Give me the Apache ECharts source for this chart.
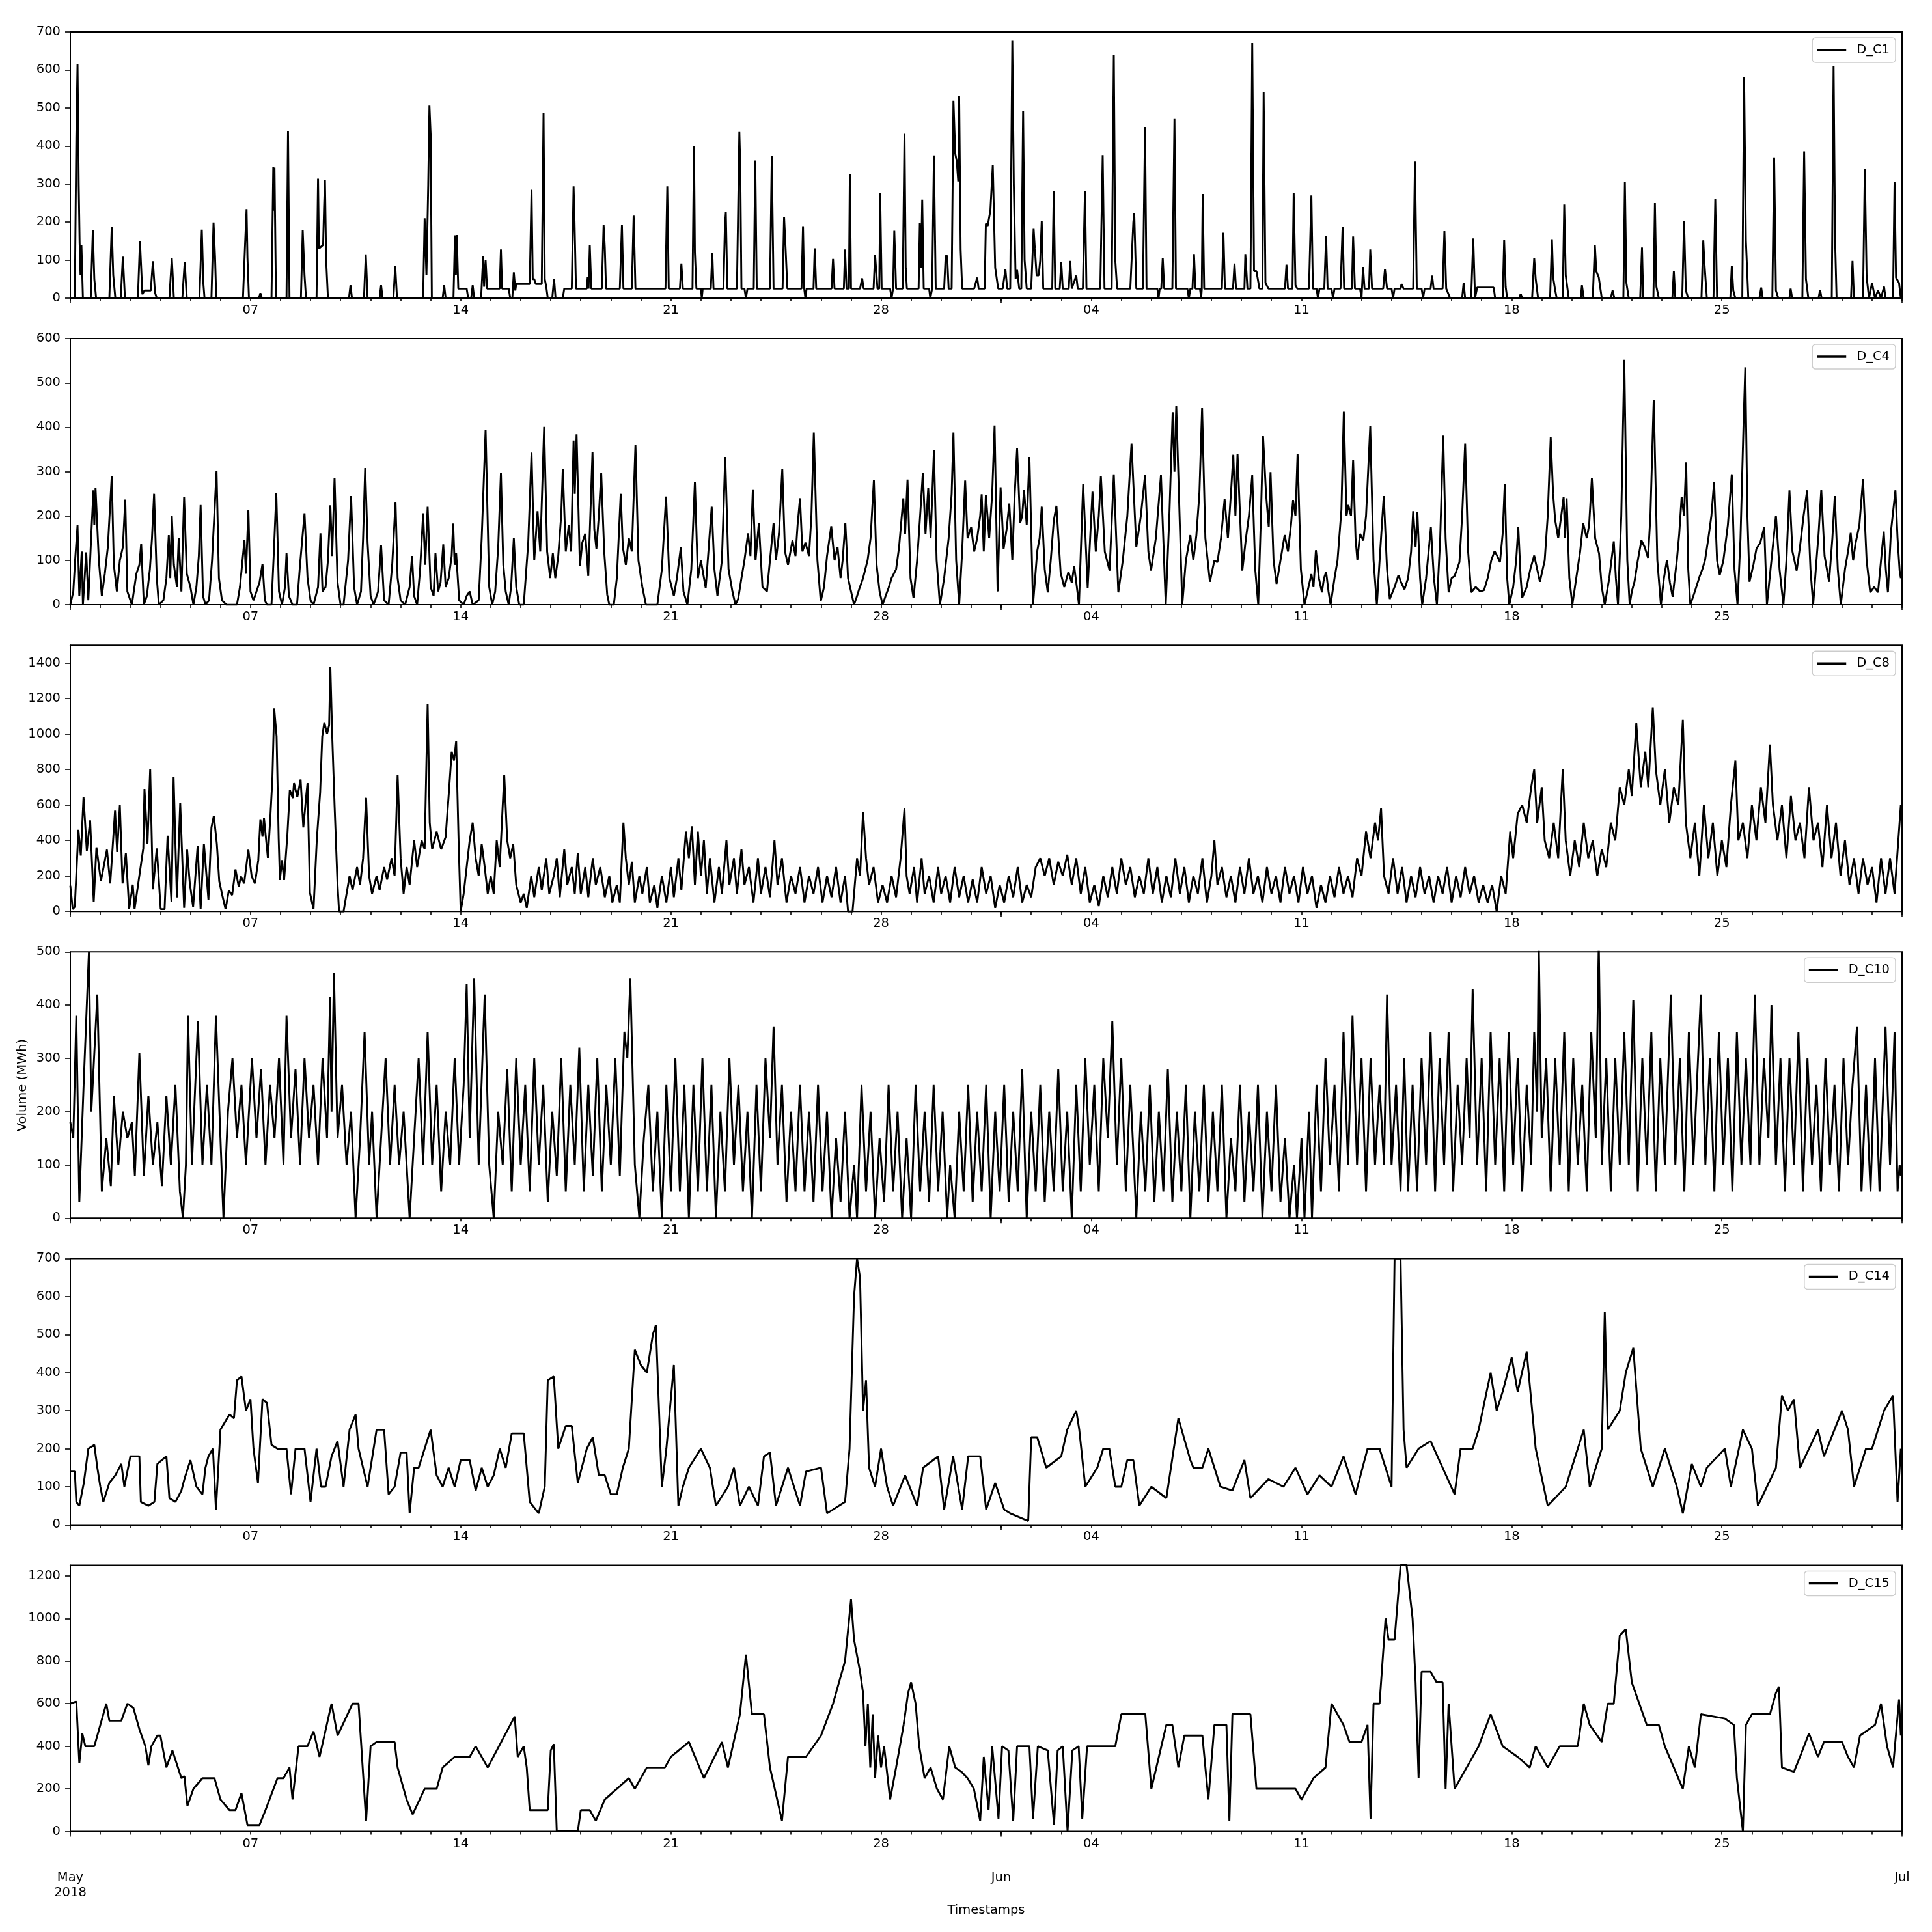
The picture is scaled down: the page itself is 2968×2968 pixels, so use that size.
<!DOCTYPE html>
<html><head><meta charset="utf-8">
<script src="https://cdn.jsdelivr.net/npm/echarts@6/dist/echarts.min.js"></script>
<style>html,body{margin:0;padding:0;background:#fff}#c{width:2968px;height:2968px}</style>
</head><body><div id="c"></div>
<script>
const seriesNames = ['D_C1','D_C4','D_C8','D_C10','D_C14','D_C15'];
const yMax = [700,600,1500,500,700,1250];
const yStep = [100,100,200,100,100,200];
const weekDays = [6,13,20,27,34,41,48,55];
const weekLabels = ['07','14','21','28','04','11','18','25'];
const monthDays = [0,31,61];
const monthLabels = ['May\n2018','Jun','Jul'];

// values: [day since 2018-05-01 00:00, MWh]
const c1 = [[0,0],[0.15,0],[0.2,420],[0.24,615],[0.28,300],[0.31,145],[0.34,60],[0.37,140],[0.42,0],[0.68,0],[0.75,178],[0.8,50],[0.86,0],[1.3,0],[1.38,188],[1.43,60],[1.5,0],[1.68,0],[1.75,109],[1.82,0],[2.25,0],[2.32,149],[2.4,10],[2.47,20],[2.68,20],[2.75,97],[2.82,15],[2.88,0],[3.3,0],[3.38,105],[3.45,0],[3.73,0],[3.81,95],[3.88,0],[4.3,0],[4.38,180],[4.43,40],[4.47,0],[4.7,0],[4.77,199],[4.82,110],[4.86,0],[5.75,0],[5.82,140],[5.87,234],[5.9,105],[5.95,0],[6.28,0],[6.33,13],[6.38,0],[6.7,0],[6.76,345],[6.78,230],[6.8,343],[6.85,0],[7.2,0],[7.25,440],[7.3,0],[7.68,0],[7.74,178],[7.8,60],[7.85,0],[8.2,0],[8.25,314],[8.28,130],[8.35,135],[8.42,140],[8.45,236],[8.48,310],[8.52,100],[8.58,0],[9.28,0],[9.33,34],[9.38,0],[9.78,0],[9.84,115],[9.9,0],[10.3,0],[10.35,34],[10.4,0],[10.76,0],[10.82,85],[10.88,0],[11.75,0],[11.8,210],[11.86,60],[11.92,300],[11.96,506],[12.0,430],[12.04,0],[12.4,0],[12.45,34],[12.5,0],[12.76,0],[12.81,165],[12.84,60],[12.87,166],[12.92,25],[13.2,25],[13.25,0],[13.35,0],[13.4,34],[13.45,0],[13.68,0],[13.75,111],[13.78,30],[13.83,99],[13.88,25],[14.3,25],[14.34,128],[14.38,25],[14.6,25],[14.65,0],[14.72,0],[14.77,68],[14.82,20],[14.85,37],[15.3,37],[15.36,285],[15.4,50],[15.45,50],[15.5,37],[15.7,37],[15.76,487],[15.8,50],[15.85,30],[15.9,0],[16.05,0],[16.11,51],[16.16,0],[16.4,0],[16.45,25],[16.7,25],[16.76,294],[16.79,208],[16.84,25],[17.2,25],[17.23,56],[17.26,25],[17.3,139],[17.35,25],[17.7,25],[17.76,192],[17.8,133],[17.84,25],[18.3,25],[18.37,193],[18.42,25],[18.7,25],[18.76,217],[18.82,25],[19.82,25],[19.88,294],[19.93,25],[20.3,25],[20.35,91],[20.4,25],[20.72,25],[20.77,400],[20.8,120],[20.85,25],[21.0,25],[21.03,0],[21.06,25],[21.33,25],[21.38,119],[21.42,25],[21.75,25],[21.8,190],[21.83,226],[21.88,25],[22.2,25],[22.28,437],[22.31,350],[22.35,25],[22.45,25],[22.5,0],[22.55,25],[22.76,25],[22.81,362],[22.86,25],[23.3,25],[23.36,373],[23.42,25],[23.72,25],[23.77,214],[23.82,130],[23.88,25],[24.35,25],[24.4,189],[24.44,25],[24.48,0],[24.52,25],[24.75,25],[24.79,131],[24.84,25],[25.35,25],[25.4,103],[25.45,25],[25.76,25],[25.8,128],[25.85,25],[25.93,25],[25.96,327],[26.0,25],[26.3,25],[26.37,52],[26.42,25],[26.75,25],[26.8,114],[26.88,25],[26.94,25],[26.97,277],[27.02,25],[27.3,25],[27.35,0],[27.4,25],[27.44,177],[27.5,25],[27.72,25],[27.78,432],[27.82,78],[27.86,25],[28.25,25],[28.29,197],[28.33,80],[28.37,259],[28.42,25],[28.6,25],[28.64,0],[28.7,25],[28.76,375],[28.82,25],[29.1,25],[29.15,111],[29.2,111],[29.25,25],[29.35,25],[29.41,519],[29.47,380],[29.52,360],[29.57,307],[29.6,531],[29.65,128],[29.7,25],[30.1,25],[30.2,54],[30.25,25],[30.45,25],[30.49,196],[30.55,190],[30.64,230],[30.72,350],[30.8,80],[30.9,25],[31.05,25],[31.14,76],[31.2,25],[31.3,25],[31.37,677],[31.42,300],[31.48,50],[31.53,74],[31.6,25],[31.67,25],[31.73,491],[31.78,100],[31.85,25],[32.0,25],[32.08,182],[32.12,131],[32.18,60],[32.25,60],[32.3,100],[32.35,203],[32.4,25],[32.7,25],[32.75,281],[32.8,25],[32.95,25],[33.0,94],[33.05,25],[33.25,25],[33.3,98],[33.35,25],[33.5,59],[33.55,25],[33.72,25],[33.79,282],[33.84,25],[34.3,25],[34.38,376],[34.44,25],[34.68,25],[34.75,640],[34.8,99],[34.86,25],[35.3,25],[35.4,199],[35.43,224],[35.5,25],[35.72,25],[35.79,450],[35.84,25],[36.2,25],[36.24,0],[36.28,25],[36.33,25],[36.38,105],[36.43,25],[36.7,25],[36.77,471],[36.82,25],[37.2,25],[37.25,0],[37.3,25],[37.37,25],[37.42,116],[37.47,25],[37.62,25],[37.66,0],[37.68,25],[37.71,274],[37.76,25],[38.35,25],[38.4,172],[38.45,25],[38.72,25],[38.77,91],[38.82,25],[39.1,25],[39.13,116],[39.2,25],[39.3,25],[39.36,671],[39.42,71],[39.5,71],[39.6,25],[39.7,25],[39.74,541],[39.8,40],[39.9,25],[40.45,25],[40.5,88],[40.55,25],[40.7,25],[40.74,277],[40.8,34],[40.86,25],[41.25,25],[41.33,270],[41.38,25],[41.5,25],[41.55,0],[41.6,25],[41.76,25],[41.82,163],[41.87,25],[42.0,25],[42.05,0],[42.1,25],[42.3,25],[42.37,188],[42.42,25],[42.68,25],[42.72,162],[42.78,25],[42.95,25],[43.0,0],[43.05,82],[43.1,25],[43.25,25],[43.29,128],[43.35,25],[43.72,25],[43.78,76],[43.85,25],[44.0,25],[44.05,0],[44.1,25],[44.3,25],[44.33,37],[44.4,25],[44.72,25],[44.78,359],[44.84,25],[45.0,25],[45.05,0],[45.1,25],[45.3,25],[45.35,59],[45.4,25],[45.7,25],[45.76,176],[45.82,25],[45.95,0],[46.35,0],[46.4,40],[46.45,0],[46.65,0],[46.72,157],[46.78,0],[46.85,28],[47.4,28],[47.45,0],[47.7,0],[47.75,153],[47.8,30],[47.85,0],[48.25,0],[48.3,11],[48.35,0],[48.68,0],[48.75,105],[48.8,50],[48.88,0],[49.28,0],[49.34,155],[49.38,55],[49.45,20],[49.5,0],[49.7,0],[49.75,246],[49.8,60],[49.9,0],[50.3,0],[50.34,34],[50.4,0],[50.7,0],[50.77,139],[50.82,70],[50.9,55],[51.0,0],[51.3,0],[51.36,20],[51.42,0],[51.72,0],[51.77,305],[51.82,40],[51.9,0],[52.28,0],[52.34,133],[52.38,0],[52.72,0],[52.77,250],[52.82,30],[52.9,0],[53.35,0],[53.4,71],[53.45,0],[53.68,0],[53.74,203],[53.8,20],[53.88,0],[54.32,0],[54.38,152],[54.42,90],[54.5,0],[54.72,0],[54.78,260],[54.84,0],[55.28,0],[55.33,85],[55.38,20],[55.45,0],[55.68,0],[55.74,580],[55.8,150],[55.88,0],[56.25,0],[56.31,28],[56.36,0],[56.68,0],[56.74,370],[56.8,20],[56.88,0],[57.25,0],[57.29,25],[57.34,0],[57.68,0],[57.74,386],[57.8,50],[57.88,0],[58.22,0],[58.27,22],[58.32,0],[58.66,0],[58.72,610],[58.77,152],[58.82,0],[59.3,0],[59.35,98],[59.4,0],[59.7,0],[59.76,339],[59.82,56],[59.9,0],[60.0,40],[60.1,0],[60.2,20],[60.3,0],[60.4,30],[60.45,0],[60.7,0],[60.75,305],[60.8,54],[60.9,40],[60.96,0]];

const c4 = [[0,0],[0.1,30],[0.16,100],[0.24,179],[0.3,20],[0.38,120],[0.42,0],[0.53,118],[0.6,10],[0.7,160],[0.77,258],[0.8,180],[0.84,263],[0.95,100],[1.05,20],[1.15,70],[1.25,130],[1.38,290],[1.45,90],[1.55,30],[1.65,100],[1.75,130],[1.83,237],[1.9,30],[2.05,0],[2.2,70],[2.3,90],[2.36,138],[2.45,0],[2.55,20],[2.65,80],[2.72,150],[2.79,250],[2.88,60],[2.95,0],[3.1,10],[3.2,60],[3.28,157],[3.33,60],[3.38,201],[3.45,90],[3.55,40],[3.61,150],[3.7,30],[3.79,243],[3.88,70],[4.0,40],[4.1,0],[4.2,40],[4.28,110],[4.34,225],[4.42,20],[4.5,0],[4.62,10],[4.72,100],[4.87,302],[4.95,60],[5.05,10],[5.2,0],[5.4,0],[5.55,0],[5.65,40],[5.72,90],[5.8,146],[5.85,70],[5.93,214],[6.0,30],[6.1,10],[6.2,30],[6.3,50],[6.4,92],[6.48,10],[6.55,0],[6.7,0],[6.78,120],[6.86,251],[6.95,30],[7.05,0],[7.15,40],[7.2,116],[7.28,20],[7.4,0],[7.55,0],[7.65,90],[7.8,206],[7.9,60],[8.0,10],[8.1,0],[8.25,40],[8.33,161],[8.4,30],[8.5,40],[8.58,100],[8.66,224],[8.72,110],[8.8,286],[8.9,50],[9.0,0],[9.1,0],[9.25,100],[9.35,245],[9.45,40],[9.55,0],[9.68,30],[9.75,150],[9.82,308],[9.9,140],[10.0,20],[10.1,0],[10.25,30],[10.35,134],[10.45,10],[10.6,0],[10.72,90],[10.83,232],[10.9,60],[11.0,10],[11.15,0],[11.3,40],[11.38,110],[11.45,20],[11.55,0],[11.65,80],[11.75,206],[11.82,90],[11.9,221],[12.0,40],[12.1,20],[12.16,116],[12.25,30],[12.33,50],[12.42,136],[12.5,40],[12.6,60],[12.7,110],[12.75,183],[12.8,90],[12.85,116],[12.95,10],[13.1,0],[13.2,20],[13.3,30],[13.4,0],[13.6,10],[13.7,150],[13.83,394],[13.95,40],[14.05,0],[14.15,30],[14.25,130],[14.34,297],[14.42,90],[14.5,30],[14.6,0],[14.68,40],[14.77,150],[14.85,40],[14.95,0],[15.1,0],[15.25,140],[15.36,343],[15.45,100],[15.56,211],[15.65,120],[15.78,401],[15.88,120],[15.98,60],[16.07,116],[16.15,60],[16.25,110],[16.35,204],[16.4,306],[16.5,120],[16.6,180],[16.68,120],[16.76,370],[16.8,250],[16.86,384],[16.97,87],[17.05,140],[17.15,160],[17.25,65],[17.39,344],[17.45,170],[17.52,126],[17.6,200],[17.68,297],[17.78,120],[17.88,23],[17.95,0],[18.1,0],[18.2,60],[18.33,250],[18.4,130],[18.5,90],[18.6,150],[18.7,120],[18.82,360],[18.92,100],[19.05,40],[19.17,0],[19.4,0],[19.55,0],[19.7,80],[19.84,244],[19.95,60],[20.1,20],[20.2,60],[20.33,129],[20.42,30],[20.55,0],[20.68,80],[20.8,277],[20.9,60],[21.0,100],[21.16,38],[21.25,120],[21.36,221],[21.45,80],[21.55,20],[21.7,100],[21.81,333],[21.92,80],[22.05,30],[22.15,0],[22.24,13],[22.35,60],[22.45,100],[22.57,161],[22.65,110],[22.73,260],[22.82,100],[22.93,184],[23.05,40],[23.2,30],[23.3,100],[23.42,184],[23.5,100],[23.6,160],[23.71,306],[23.8,120],[23.9,90],[24.05,145],[24.15,110],[24.22,180],[24.3,240],[24.38,120],[24.48,140],[24.6,110],[24.68,200],[24.76,388],[24.88,100],[24.99,8],[25.1,40],[25.2,110],[25.34,177],[25.45,100],[25.55,130],[25.65,60],[25.72,100],[25.81,185],[25.9,60],[26.0,30],[26.1,0],[26.2,20],[26.27,35],[26.4,60],[26.55,100],[26.65,150],[26.76,281],[26.85,90],[26.95,30],[27.05,0],[27.15,20],[27.25,38],[27.35,60],[27.5,80],[27.6,130],[27.74,240],[27.8,160],[27.88,282],[27.98,60],[28.08,15],[28.2,100],[28.3,200],[28.39,297],[28.48,160],[28.57,263],[28.65,150],[28.76,348],[28.85,100],[28.96,0],[29.1,60],[29.25,150],[29.35,250],[29.41,388],[29.5,100],[29.6,0],[29.7,120],[29.8,280],[29.88,150],[30.0,175],[30.1,120],[30.2,150],[30.3,200],[30.35,249],[30.42,120],[30.49,248],[30.6,150],[30.7,250],[30.78,404],[30.88,30],[30.98,265],[31.08,126],[31.18,170],[31.27,228],[31.37,100],[31.45,250],[31.53,352],[31.63,184],[31.7,200],[31.76,259],[31.85,180],[31.94,333],[32.06,0],[32.2,121],[32.28,150],[32.35,221],[32.45,80],[32.55,28],[32.65,100],[32.75,189],[32.84,223],[32.98,72],[33.1,40],[33.24,74],[33.35,50],[33.43,87],[33.52,40],[33.59,0],[33.73,272],[33.88,38],[34.04,255],[34.15,120],[34.25,200],[34.32,290],[34.45,120],[34.61,77],[34.75,294],[34.9,28],[35.05,100],[35.2,200],[35.34,363],[35.5,130],[35.65,200],[35.79,292],[35.9,120],[35.99,77],[36.15,150],[36.32,292],[36.48,0],[36.6,200],[36.71,434],[36.77,300],[36.83,448],[37.03,0],[37.15,100],[37.3,157],[37.4,100],[37.5,157],[37.6,250],[37.69,443],[37.8,150],[37.95,52],[38.1,100],[38.2,96],[38.32,150],[38.44,238],[38.55,150],[38.65,250],[38.73,338],[38.8,200],[38.87,340],[39.03,77],[39.15,150],[39.25,200],[39.36,292],[39.46,80],[39.56,0],[39.65,200],[39.72,380],[39.82,250],[39.91,175],[39.97,299],[40.07,100],[40.17,47],[40.3,100],[40.44,157],[40.55,120],[40.65,180],[40.72,236],[40.8,200],[40.87,340],[40.98,80],[41.1,0],[41.2,30],[41.33,69],[41.4,40],[41.48,123],[41.58,60],[41.68,28],[41.75,60],[41.82,74],[41.9,30],[41.97,0],[42.1,60],[42.2,100],[42.33,214],[42.41,435],[42.5,200],[42.56,225],[42.65,200],[42.72,326],[42.8,150],[42.86,101],[42.95,160],[43.06,145],[43.15,200],[43.29,402],[43.4,100],[43.51,0],[43.62,120],[43.74,245],[43.85,80],[43.94,13],[44.1,40],[44.23,67],[44.32,50],[44.43,35],[44.55,60],[44.65,120],[44.72,211],[44.8,130],[44.86,209],[44.95,60],[45.02,0],[45.15,60],[45.31,175],[45.41,60],[45.51,0],[45.62,150],[45.72,381],[45.8,150],[45.9,28],[46.0,60],[46.1,65],[46.18,80],[46.26,96],[46.35,200],[46.45,363],[46.55,120],[46.65,28],[46.8,40],[46.95,30],[47.08,33],[47.2,60],[47.32,100],[47.43,121],[47.52,110],[47.61,96],[47.7,160],[47.77,272],[47.85,60],[47.92,0],[48.05,40],[48.15,100],[48.22,175],[48.3,60],[48.35,16],[48.5,40],[48.62,80],[48.75,111],[48.85,80],[48.94,52],[49.1,100],[49.2,200],[49.3,377],[49.38,250],[49.45,190],[49.55,150],[49.65,200],[49.73,243],[49.78,150],[49.83,240],[49.92,60],[50.02,0],[50.15,60],[50.28,120],[50.38,184],[50.5,150],[50.58,180],[50.67,285],[50.78,150],[50.91,116],[51.0,40],[51.1,0],[51.25,60],[51.4,143],[51.47,60],[51.54,0],[51.65,200],[51.75,552],[51.85,100],[51.93,0],[52.0,30],[52.09,52],[52.2,100],[52.32,145],[52.43,130],[52.54,106],[52.62,200],[52.73,462],[52.85,100],[52.97,0],[53.07,60],[53.17,101],[53.27,50],[53.36,18],[53.5,100],[53.58,160],[53.66,243],[53.74,200],[53.81,321],[53.88,80],[53.95,0],[54.1,30],[54.25,62],[54.35,80],[54.44,101],[54.55,150],[54.65,200],[54.74,277],[54.84,100],[54.93,67],[55.05,100],[55.2,180],[55.33,294],[55.42,80],[55.52,0],[55.62,150],[55.72,404],[55.78,535],[55.85,200],[55.92,52],[56.05,90],[56.15,126],[56.28,140],[56.41,175],[56.5,0],[56.65,100],[56.8,201],[56.92,80],[57.05,0],[57.15,100],[57.25,258],[57.35,120],[57.49,77],[57.6,130],[57.72,200],[57.84,258],[57.95,80],[58.04,0],[58.15,100],[58.22,160],[58.31,259],[58.42,110],[58.57,52],[58.68,150],[58.76,245],[58.86,80],[58.96,0],[59.1,80],[59.2,120],[59.29,162],[59.37,100],[59.45,138],[59.58,180],[59.7,283],[59.82,100],[59.94,28],[60.07,40],[60.2,28],[60.3,100],[60.39,165],[60.46,80],[60.53,28],[60.63,165],[60.78,258],[60.85,150],[60.92,77],[60.96,60]];

const c8 = [[0,145],[0.08,13],[0.15,26],[0.27,460],[0.35,315],[0.44,644],[0.55,342],[0.66,513],[0.78,53],[0.87,361],[1.02,171],[1.22,348],[1.33,158],[1.49,568],[1.56,335],[1.65,598],[1.74,158],[1.85,329],[1.96,13],[2.08,151],[2.14,13],[2.43,355],[2.47,690],[2.57,381],[2.66,802],[2.75,125],[2.88,355],[3.01,13],[3.14,13],[3.24,427],[3.37,53],[3.44,756],[3.55,79],[3.66,611],[3.79,20],[3.89,348],[3.98,158],[4.09,26],[4.24,368],[4.34,13],[4.45,381],[4.6,66],[4.7,473],[4.78,539],[4.88,381],[4.96,171],[5.06,92],[5.17,13],[5.28,118],[5.39,92],[5.5,237],[5.61,138],[5.68,197],[5.79,158],[5.93,348],[6.04,197],[6.15,158],[6.26,289],[6.33,519],[6.4,421],[6.45,526],[6.58,302],[6.66,526],[6.73,749],[6.79,1144],[6.87,986],[6.94,408],[6.98,177],[7.05,289],[7.12,177],[7.23,434],[7.31,684],[7.41,638],[7.45,723],[7.56,644],[7.67,743],[7.76,473],[7.86,657],[7.9,723],[7.98,105],[8.1,13],[8.21,408],[8.32,670],[8.39,986],[8.46,1065],[8.55,1000],[8.62,1050],[8.66,1380],[8.72,1000],[8.8,600],[8.9,150],[8.95,0],[9.1,0],[9.2,100],[9.3,200],[9.4,120],[9.55,250],[9.65,150],[9.75,300],[9.85,640],[9.95,200],[10.05,100],[10.2,200],[10.3,120],[10.45,250],[10.55,180],[10.7,300],[10.8,200],[10.9,770],[11.0,300],[11.1,100],[11.2,250],[11.3,150],[11.45,400],[11.55,250],[11.7,400],[11.8,350],[11.9,1170],[11.97,500],[12.05,350],[12.2,450],[12.35,350],[12.5,420],[12.62,700],[12.7,900],[12.78,850],[12.85,960],[12.93,400],[13.0,0],[13.1,100],[13.2,250],[13.3,400],[13.4,500],[13.5,300],[13.6,200],[13.7,380],[13.8,250],[13.9,100],[14.0,200],[14.1,100],[14.2,400],[14.3,250],[14.45,770],[14.55,400],[14.65,300],[14.75,380],[14.85,150],[15.0,50],[15.1,100],[15.2,20],[15.35,200],[15.45,80],[15.6,250],[15.7,120],[15.85,300],[15.95,100],[16.1,200],[16.2,300],[16.3,80],[16.45,350],[16.55,150],[16.7,250],[16.8,100],[16.9,330],[17.0,100],[17.15,250],[17.25,80],[17.4,300],[17.5,150],[17.65,250],[17.8,80],[17.95,200],[18.05,50],[18.2,150],[18.3,50],[18.42,500],[18.5,300],[18.6,150],[18.7,280],[18.8,50],[18.95,200],[19.05,100],[19.2,250],[19.3,50],[19.45,150],[19.55,20],[19.7,200],[19.85,50],[20.0,250],[20.1,80],[20.25,300],[20.35,120],[20.5,450],[20.6,300],[20.7,480],[20.8,150],[20.9,450],[21.0,200],[21.1,400],[21.2,100],[21.3,300],[21.45,50],[21.6,250],[21.7,100],[21.85,400],[21.95,150],[22.1,300],[22.2,100],[22.35,350],[22.45,150],[22.6,250],[22.75,50],[22.9,300],[23.0,100],[23.15,250],[23.3,80],[23.45,400],[23.55,150],[23.7,300],[23.85,50],[24.0,200],[24.15,100],[24.3,250],[24.45,50],[24.6,200],[24.75,100],[24.9,250],[25.05,50],[25.2,200],[25.35,80],[25.5,250],[25.65,50],[25.8,200],[25.9,0],[26.05,0],[26.2,300],[26.3,200],[26.4,560],[26.5,300],[26.6,150],[26.75,250],[26.9,50],[27.05,150],[27.2,50],[27.35,200],[27.5,80],[27.65,300],[27.78,580],[27.85,200],[27.95,100],[28.1,250],[28.2,50],[28.35,300],[28.45,100],[28.6,200],[28.75,50],[28.9,250],[29.0,100],[29.15,200],[29.3,50],[29.45,250],[29.6,80],[29.75,200],[29.9,50],[30.05,180],[30.2,50],[30.35,250],[30.5,100],[30.65,200],[30.8,20],[30.95,150],[31.1,50],[31.25,200],[31.4,80],[31.55,250],[31.7,50],[31.85,150],[32.0,80],[32.15,250],[32.3,300],[32.45,200],[32.6,300],[32.75,150],[32.9,280],[33.05,200],[33.2,320],[33.35,150],[33.5,300],[33.65,100],[33.8,250],[33.95,50],[34.1,150],[34.25,30],[34.4,200],[34.55,80],[34.7,250],[34.85,100],[35.0,300],[35.15,150],[35.3,250],[35.45,80],[35.6,200],[35.75,100],[35.9,300],[36.05,100],[36.2,250],[36.35,50],[36.5,200],[36.65,80],[36.8,300],[36.95,100],[37.1,250],[37.25,50],[37.4,200],[37.55,100],[37.7,300],[37.85,50],[38.0,200],[38.1,400],[38.2,150],[38.35,250],[38.5,80],[38.65,200],[38.8,50],[38.95,250],[39.1,100],[39.25,300],[39.4,100],[39.55,200],[39.7,50],[39.85,250],[40.0,100],[40.15,200],[40.3,50],[40.45,250],[40.6,100],[40.75,200],[40.9,50],[41.05,250],[41.2,100],[41.35,200],[41.5,20],[41.65,150],[41.8,50],[41.95,200],[42.1,80],[42.25,250],[42.4,100],[42.55,200],[42.7,80],[42.85,300],[43.0,200],[43.15,450],[43.3,300],[43.45,500],[43.55,400],[43.65,580],[43.75,200],[43.9,100],[44.05,300],[44.2,100],[44.35,250],[44.5,50],[44.65,200],[44.8,80],[44.95,250],[45.1,100],[45.25,200],[45.4,50],[45.55,200],[45.7,100],[45.85,250],[46.0,50],[46.15,200],[46.3,80],[46.45,250],[46.6,100],[46.75,200],[46.9,50],[47.05,150],[47.2,50],[47.35,150],[47.5,0],[47.65,200],[47.8,100],[47.95,450],[48.05,300],[48.2,550],[48.35,600],[48.5,500],[48.65,700],[48.75,800],[48.85,500],[49.0,700],[49.1,400],[49.25,300],[49.4,500],[49.55,300],[49.7,800],[49.8,400],[49.95,200],[50.1,400],[50.25,250],[50.4,500],[50.55,300],[50.7,400],[50.85,200],[51.0,350],[51.15,250],[51.3,500],[51.45,400],[51.6,700],[51.75,600],[51.9,800],[52.0,650],[52.15,1060],[52.3,700],[52.45,900],[52.55,700],[52.7,1150],[52.8,800],[52.95,600],[53.1,800],[53.25,500],[53.4,700],[53.55,600],[53.7,1080],[53.8,500],[53.95,300],[54.1,500],[54.25,200],[54.4,600],[54.55,300],[54.7,500],[54.85,200],[55.0,400],[55.15,250],[55.3,600],[55.45,850],[55.55,400],[55.7,500],[55.85,300],[56.0,600],[56.15,400],[56.3,700],[56.45,500],[56.6,940],[56.7,600],[56.85,400],[57.0,600],[57.15,300],[57.3,650],[57.45,400],[57.6,500],[57.75,300],[57.9,700],[58.05,400],[58.2,500],[58.35,250],[58.5,600],[58.65,300],[58.8,500],[58.95,200],[59.1,400],[59.25,150],[59.4,300],[59.55,100],[59.7,300],[59.85,150],[60.0,250],[60.15,50],[60.3,300],[60.45,100],[60.6,300],[60.75,100],[60.96,600]];

const c10 = [[0,180],[0.1,150],[0.2,380],[0.3,30],[0.45,260],[0.62,500],[0.7,200],[0.9,420],[1.05,50],[1.2,150],[1.35,60],[1.45,230],[1.6,100],[1.75,200],[1.9,150],[2.05,180],[2.15,80],[2.3,310],[2.45,80],[2.6,230],[2.75,100],[2.9,180],[3.05,60],[3.2,230],[3.35,100],[3.5,250],[3.65,50],[3.75,0],[3.85,100],[3.92,380],[4.05,100],[4.25,370],[4.4,100],[4.55,250],[4.7,100],[4.85,380],[5.0,150],[5.1,0],[5.25,200],[5.4,300],[5.55,150],[5.7,250],[5.85,100],[6.05,300],[6.2,150],[6.35,280],[6.5,100],[6.65,250],[6.8,150],[6.95,300],[7.1,100],[7.2,380],[7.35,150],[7.5,280],[7.65,100],[7.8,300],[7.95,150],[8.1,250],[8.25,100],[8.4,300],[8.55,150],[8.65,415],[8.7,200],[8.78,460],[8.9,150],[9.05,250],[9.2,100],[9.35,200],[9.5,0],[9.65,150],[9.8,350],[9.95,100],[10.05,200],[10.2,0],[10.35,150],[10.5,300],[10.65,100],[10.8,250],[10.95,100],[11.1,200],[11.3,0],[11.45,150],[11.6,300],[11.75,100],[11.9,350],[12.05,100],[12.2,250],[12.35,50],[12.5,200],[12.65,100],[12.8,300],[12.95,100],[13.1,250],[13.2,440],[13.3,150],[13.45,450],[13.6,100],[13.8,420],[13.95,100],[14.1,0],[14.25,200],[14.4,100],[14.55,280],[14.7,50],[14.85,300],[15.0,100],[15.15,250],[15.3,50],[15.45,300],[15.6,100],[15.75,250],[15.9,30],[16.05,200],[16.2,80],[16.35,300],[16.5,50],[16.65,250],[16.8,100],[16.95,320],[17.1,50],[17.25,250],[17.4,80],[17.55,300],[17.7,50],[17.85,250],[18.0,100],[18.15,300],[18.3,80],[18.45,350],[18.55,300],[18.65,450],[18.8,100],[18.95,0],[19.1,150],[19.25,250],[19.4,50],[19.55,200],[19.7,0],[19.85,250],[20.0,50],[20.15,300],[20.3,50],[20.45,250],[20.6,0],[20.75,250],[20.9,50],[21.05,300],[21.2,50],[21.35,250],[21.5,0],[21.65,200],[21.8,50],[21.95,300],[22.1,100],[22.25,250],[22.4,50],[22.55,200],[22.7,0],[22.85,250],[23.0,50],[23.15,300],[23.3,150],[23.42,360],[23.55,100],[23.7,250],[23.85,30],[24.0,200],[24.15,50],[24.3,250],[24.45,50],[24.6,200],[24.75,30],[24.9,250],[25.05,50],[25.2,200],[25.35,0],[25.5,150],[25.65,30],[25.8,200],[25.95,0],[26.1,100],[26.2,0],[26.35,250],[26.5,50],[26.65,200],[26.8,0],[26.95,150],[27.1,30],[27.25,250],[27.4,50],[27.55,200],[27.7,0],[27.85,150],[28.0,0],[28.15,250],[28.3,50],[28.45,200],[28.6,30],[28.75,250],[28.9,50],[29.05,200],[29.2,0],[29.3,100],[29.45,0],[29.6,200],[29.75,50],[29.9,250],[30.05,30],[30.2,200],[30.35,50],[30.5,250],[30.65,0],[30.8,200],[30.95,50],[31.1,250],[31.25,30],[31.4,200],[31.55,50],[31.7,280],[31.85,0],[32.0,200],[32.15,50],[32.3,250],[32.45,30],[32.6,200],[32.75,50],[32.9,280],[33.05,50],[33.2,200],[33.35,0],[33.5,250],[33.65,50],[33.8,300],[33.95,100],[34.1,250],[34.25,50],[34.4,300],[34.55,150],[34.7,370],[34.85,100],[35.0,300],[35.15,50],[35.3,250],[35.5,0],[35.65,200],[35.8,50],[35.95,250],[36.1,30],[36.25,200],[36.4,50],[36.55,280],[36.7,30],[36.85,200],[37.0,50],[37.15,250],[37.3,0],[37.45,200],[37.6,50],[37.75,250],[37.9,30],[38.05,200],[38.2,50],[38.35,250],[38.5,0],[38.65,150],[38.8,50],[38.95,250],[39.1,30],[39.25,200],[39.4,50],[39.55,250],[39.7,0],[39.85,200],[40.0,50],[40.15,250],[40.3,30],[40.45,150],[40.6,0],[40.75,100],[40.85,0],[41.0,150],[41.1,0],[41.25,200],[41.35,0],[41.5,250],[41.65,50],[41.8,300],[41.95,100],[42.1,250],[42.25,50],[42.4,350],[42.55,100],[42.7,380],[42.85,100],[43.0,300],[43.15,50],[43.3,300],[43.45,100],[43.6,250],[43.75,100],[43.85,420],[44.0,100],[44.15,250],[44.3,50],[44.42,300],[44.55,50],[44.7,250],[44.85,50],[45.0,300],[45.15,100],[45.3,350],[45.45,50],[45.6,300],[45.75,100],[45.9,350],[46.05,50],[46.2,250],[46.35,100],[46.5,300],[46.6,150],[46.7,430],[46.85,100],[47.0,300],[47.15,50],[47.3,350],[47.45,100],[47.6,300],[47.75,50],[47.9,350],[48.05,100],[48.2,300],[48.35,50],[48.5,250],[48.65,100],[48.75,350],[48.85,200],[48.9,520],[49.0,150],[49.15,300],[49.3,50],[49.45,300],[49.6,100],[49.75,350],[49.9,50],[50.05,300],[50.2,100],[50.35,250],[50.5,50],[50.65,350],[50.8,150],[50.9,520],[51.0,100],[51.15,300],[51.3,50],[51.45,300],[51.6,100],[51.75,350],[51.9,100],[52.05,410],[52.2,50],[52.35,300],[52.5,100],[52.65,350],[52.8,50],[52.95,300],[53.1,100],[53.3,420],[53.45,100],[53.6,300],[53.75,50],[53.9,350],[54.05,100],[54.3,420],[54.45,100],[54.6,300],[54.75,50],[54.9,350],[55.05,100],[55.2,300],[55.35,50],[55.5,350],[55.65,100],[55.8,300],[55.95,100],[56.1,420],[56.25,100],[56.4,300],[56.55,150],[56.65,400],[56.8,100],[56.95,300],[57.1,50],[57.25,300],[57.4,100],[57.55,350],[57.7,50],[57.85,300],[58.0,100],[58.15,250],[58.3,50],[58.45,300],[58.6,100],[58.75,250],[58.9,50],[59.05,300],[59.2,100],[59.35,250],[59.5,360],[59.65,50],[59.8,250],[59.95,50],[60.1,300],[60.25,50],[60.45,360],[60.6,100],[60.75,350],[60.85,50],[60.92,100],[60.96,80]];

const c14 = [[0,140],[0.15,140],[0.2,60],[0.3,50],[0.45,110],[0.6,200],[0.8,210],[0.9,150],[1.0,100],[1.1,60],[1.3,110],[1.5,130],[1.7,160],[1.8,100],[2.0,180],[2.3,180],[2.35,60],[2.6,50],[2.8,60],[2.9,160],[3.2,180],[3.3,70],[3.5,60],[3.7,90],[3.8,120],[4.0,170],[4.2,100],[4.4,80],[4.5,150],[4.6,180],[4.75,200],[4.85,40],[5.0,250],[5.3,290],[5.45,280],[5.55,380],[5.7,390],[5.85,300],[6.0,330],[6.1,200],[6.25,110],[6.4,330],[6.55,320],[6.7,210],[6.9,200],[7.2,200],[7.35,80],[7.5,200],[7.8,200],[8.0,60],[8.2,200],[8.35,100],[8.5,100],[8.7,180],[8.9,220],[9.1,100],[9.3,250],[9.5,290],[9.6,200],[9.9,100],[10.2,250],[10.45,250],[10.6,80],[10.8,100],[11.0,190],[11.2,190],[11.3,30],[11.45,150],[11.6,150],[11.8,200],[12.0,250],[12.2,130],[12.4,100],[12.6,150],[12.8,100],[13.0,170],[13.3,170],[13.5,90],[13.7,150],[13.9,100],[14.1,130],[14.3,200],[14.5,150],[14.7,240],[15.1,240],[15.3,60],[15.6,30],[15.8,100],[15.9,380],[16.1,390],[16.25,200],[16.5,260],[16.7,260],[16.9,110],[17.2,200],[17.4,230],[17.6,130],[17.8,130],[18.0,80],[18.2,80],[18.4,150],[18.6,200],[18.8,460],[19.0,420],[19.2,400],[19.4,500],[19.5,525],[19.7,100],[19.85,200],[20.1,420],[20.25,50],[20.4,100],[20.6,150],[21.0,200],[21.3,150],[21.5,50],[21.9,100],[22.1,150],[22.3,50],[22.6,100],[22.9,50],[23.1,180],[23.3,190],[23.5,50],[23.9,150],[24.3,50],[24.5,140],[25.0,150],[25.2,30],[25.8,60],[25.95,200],[26.1,600],[26.2,700],[26.3,650],[26.4,300],[26.5,380],[26.6,150],[26.8,100],[27.0,200],[27.2,100],[27.4,50],[27.8,130],[28.2,50],[28.4,150],[28.9,180],[29.1,40],[29.4,180],[29.7,40],[29.9,180],[30.3,180],[30.5,40],[30.8,110],[31.1,40],[31.3,30],[31.9,10],[32.0,230],[32.2,230],[32.5,150],[33.0,180],[33.2,250],[33.5,300],[33.6,250],[33.8,100],[34.2,150],[34.4,200],[34.6,200],[34.8,100],[35.0,100],[35.2,170],[35.4,170],[35.6,50],[36.0,100],[36.5,70],[36.9,280],[37.3,170],[37.4,150],[37.7,150],[37.9,200],[38.3,100],[38.7,90],[39.1,170],[39.3,70],[39.9,120],[40.4,100],[40.8,150],[41.2,80],[41.6,130],[42.0,100],[42.4,180],[42.8,80],[43.2,200],[43.6,200],[44.0,100],[44.05,400],[44.1,700],[44.3,700],[44.4,250],[44.5,150],[44.9,200],[45.3,220],[45.7,150],[46.1,80],[46.3,200],[46.7,200],[46.9,250],[47.3,400],[47.5,300],[47.7,350],[48.0,440],[48.2,350],[48.5,455],[48.8,200],[49.2,50],[49.8,100],[50.0,150],[50.4,250],[50.6,100],[51.0,200],[51.1,560],[51.2,250],[51.6,300],[51.8,400],[52.05,465],[52.3,200],[52.7,100],[53.1,200],[53.5,100],[53.7,30],[54.0,160],[54.3,100],[54.5,150],[55.1,200],[55.3,100],[55.7,250],[56.0,200],[56.2,50],[56.8,150],[57.0,340],[57.2,300],[57.4,330],[57.6,150],[58.2,250],[58.4,180],[59.0,300],[59.2,250],[59.4,100],[59.8,200],[60.0,200],[60.4,300],[60.7,340],[60.85,60],[60.96,200]];

const c15 = [[0,600],[0.2,610],[0.3,320],[0.4,460],[0.5,400],[0.8,400],[1.0,500],[1.2,600],[1.3,520],[1.7,520],[1.9,600],[2.1,580],[2.3,480],[2.5,400],[2.6,310],[2.7,400],[2.9,450],[3.0,450],[3.2,300],[3.4,380],[3.7,250],[3.8,260],[3.9,120],[4.1,200],[4.4,250],[4.8,250],[5.0,150],[5.3,100],[5.5,100],[5.7,180],[5.9,30],[6.3,30],[6.5,100],[6.9,250],[7.1,250],[7.3,300],[7.4,150],[7.6,400],[7.9,400],[8.1,470],[8.3,350],[8.7,600],[8.9,450],[9.4,600],[9.6,600],[9.85,50],[10.0,400],[10.2,420],[10.8,420],[10.9,300],[11.2,150],[11.4,80],[11.8,200],[12.2,200],[12.4,300],[12.8,350],[13.3,350],[13.5,400],[13.9,300],[14.8,540],[14.9,350],[15.1,400],[15.2,300],[15.3,100],[15.9,100],[16.0,380],[16.1,410],[16.2,0],[16.9,0],[17.0,100],[17.3,100],[17.5,50],[17.8,150],[18.2,200],[18.6,250],[18.8,200],[19.2,300],[19.8,300],[20.0,350],[20.6,420],[21.1,250],[21.7,420],[21.9,300],[22.3,550],[22.5,830],[22.7,550],[23.1,550],[23.3,300],[23.7,50],[23.9,350],[24.5,350],[25.0,450],[25.4,600],[25.6,700],[25.8,800],[26.0,1090],[26.1,900],[26.3,750],[26.4,650],[26.48,400],[26.56,600],[26.64,300],[26.72,550],[26.8,250],[26.9,450],[27.0,300],[27.1,400],[27.3,150],[27.5,300],[27.75,500],[27.9,650],[28.0,700],[28.15,600],[28.27,400],[28.45,250],[28.65,300],[28.86,200],[29.06,150],[29.27,400],[29.47,300],[29.68,280],[29.88,250],[30.09,200],[30.3,50],[30.42,350],[30.58,100],[30.7,400],[30.91,60],[31.03,400],[31.24,380],[31.4,50],[31.53,400],[31.94,400],[32.06,60],[32.22,400],[32.55,380],[32.76,30],[32.88,380],[33.05,400],[33.21,0],[33.37,380],[33.58,400],[33.7,60],[33.86,400],[34.6,400],[34.8,400],[35.0,550],[35.8,550],[36.0,200],[36.5,500],[36.7,500],[36.9,300],[37.1,450],[37.7,450],[37.9,150],[38.1,500],[38.5,500],[38.6,50],[38.7,550],[39.3,550],[39.5,200],[40.8,200],[41.0,150],[41.4,250],[41.8,300],[42.0,600],[42.4,500],[42.6,420],[43.0,420],[43.2,500],[43.3,60],[43.4,600],[43.6,600],[43.8,1000],[43.9,900],[44.1,900],[44.3,1250],[44.5,1250],[44.7,1000],[44.8,700],[44.9,250],[45.0,750],[45.3,750],[45.5,700],[45.7,700],[45.8,200],[45.9,600],[46.1,200],[46.5,300],[46.9,400],[47.3,550],[47.7,400],[48.2,350],[48.6,300],[48.8,400],[49.2,300],[49.6,400],[50.0,400],[50.2,400],[50.4,600],[50.6,500],[51.0,420],[51.2,600],[51.4,600],[51.6,920],[51.8,950],[52.0,700],[52.5,500],[52.9,500],[53.1,400],[53.7,200],[53.9,400],[54.1,300],[54.3,550],[55.1,530],[55.4,500],[55.5,250],[55.7,0],[55.8,500],[56.0,550],[56.6,550],[56.8,650],[56.9,680],[57.0,300],[57.4,280],[57.6,350],[57.9,460],[58.2,350],[58.4,420],[59.0,420],[59.2,350],[59.4,300],[59.6,450],[60.1,500],[60.3,600],[60.5,400],[60.7,300],[60.9,620],[60.96,450]];

const allData = [c1,c4,c8,c10,c14,c15];
const FONT = 'DejaVu Sans';
const FS = 19.5;
const L = 108, W = 2814, T0 = 49, STEP = 471.1, H = 409;
const dayTicks = [];
for (let d = 0; d <= 61; d++) dayTicks.push(d);

const grid = [], xAxis = [], yAxis = [], series = [], legend = [];
for (let i = 0; i < 6; i++) {
  const top = T0 + i * STEP;
  grid.push({left: L, top: top, width: W, height: H, show: true, borderColor: '#000', borderWidth: 2, backgroundColor: 'transparent'});
  xAxis.push({
    gridIndex: i, type: 'value', min: 0, max: 61, interval: 1, position: 'bottom',
    axisLine: {show: true, onZero: false, lineStyle: {color: '#000', width: 2}},
    axisTick: {show: true, customValues: dayTicks, length: 5, lineStyle: {color: '#000', width: 1.6}},
    axisLabel: {show: true, customValues: weekDays, formatter: v => weekLabels[weekDays.indexOf(v)] || '',
      fontSize: FS, fontFamily: FONT, color: '#000', margin: 9, lineHeight: 20},
    splitLine: {show: false}
  });
  xAxis.push({
    gridIndex: i, type: 'value', min: 0, max: 61, interval: 1, position: 'bottom',
    axisLine: {show: false},
    axisTick: {show: true, customValues: monthDays, length: 8, lineStyle: {color: '#000', width: 1.6}},
    axisLabel: i === 5 ? {show: true, customValues: monthDays, formatter: v => monthLabels[monthDays.indexOf(v)] || '',
      fontSize: FS, fontFamily: FONT, color: '#000', margin: 60, lineHeight: 23} : {show: false},
    splitLine: {show: false}
  });
  const yt = [];
  for (let v = 0; v <= yMax[i]; v += yStep[i]) yt.push(v);
  yAxis.push({
    gridIndex: i, type: 'value', min: 0, max: yMax[i], interval: yStep[i],
    axisLine: {show: true, onZero: false, lineStyle: {color: '#000', width: 2}},
    axisTick: {show: true, customValues: yt, length: 8, lineStyle: {color: '#000', width: 1.6}},
    axisLabel: {show: true, customValues: yt, formatter: v => String(v), fontSize: FS, fontFamily: FONT, color: '#000', margin: 15},
    splitLine: {show: false}
  });
  series.push({
    name: seriesNames[i], type: 'line', xAxisIndex: 2 * i, yAxisIndex: i, data: allData[i],
    showSymbol: false, symbol: 'none', clip: true, animation: false,
    lineStyle: {color: '#000', width: 2.9}, itemStyle: {color: '#000'}
  });
  legend.push({
    data: [{name: seriesNames[i], icon: 'rect'}], right: 56, top: top + 9, orient: 'horizontal',
    itemWidth: 45, itemHeight: 3.5, selectedMode: false,
    textStyle: {fontSize: FS, fontFamily: FONT, color: '#000', padding: [0, 0, 0, 11], lineHeight: 22},
    borderColor: '#cccccc', borderWidth: 1.5, borderRadius: 5, padding: [8, 9, 8, 7],
    backgroundColor: 'rgba(255,255,255,0.8)'
  });
}

const chart = echarts.init(document.getElementById('c'), null, {renderer: 'canvas', width: 2968, height: 2968});
chart.setOption({
  backgroundColor: '#ffffff',
  animation: false,
  grid, xAxis, yAxis, series, legend,
  graphic: [
    {type: 'text', x: 35, y: 1667, rotation: Math.PI / 2,
     style: {text: 'Volume (MWh)', fontSize: FS, fontFamily: FONT, fill: '#000', align: 'center', verticalAlign: 'middle'}},
    {type: 'text', x: 1515, y: 2935,
     style: {text: 'Timestamps', fontSize: FS, fontFamily: FONT, fill: '#000', align: 'center', verticalAlign: 'middle'}}
  ]
});
</script></body></html>
